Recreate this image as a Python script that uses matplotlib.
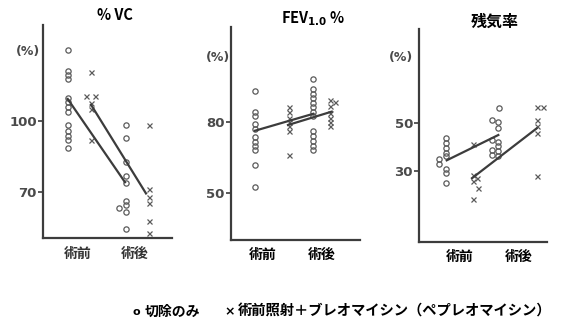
import matplotlib
matplotlib.use("Agg")
import matplotlib.pyplot as plt

plt.rcParams['font.family'] = ['Noto Sans CJK JP', 'DejaVu Sans']

# ---- data ----
titles = ["% VC", r"FEV$_{\mathbf{1.0}}$ %", "残気率"]
groups = ["術前", "術後"]
legend_o = "切除のみ"
legend_x = "術前照射＋ブレオマイシン（ペプレオマイシン）"

vc_ticks = [70, 100]
vc_pre_o = [129.5, 121, 119, 117.5, 109.7, 107.8, 105.9, 103.6, 98, 95.7, 93.6, 91.9, 88.4]
vc_pre_x = [120.4, 110.2, 110.2, 107.3, 104.9, 92]
vc_post_o = [98.2, 92.7, 82.5, 76.7, 73.9, 66.2, 64.6, 63.5, 61.8, 54.8]
vc_post_x = [98, 71.3, 68.2, 65.5, 57.8, 53]
vc_line_o = [109.1, 74.2]
vc_line_x = [106.7, 69.5]

fev_ticks = [50, 80]
fev_pre_o = [93, 84, 82.5, 79, 77, 73.5, 71.5, 70, 68, 62, 52.5]
fev_pre_x = [86, 84, 81.7, 79.7, 78, 76.2, 66]
fev_post_o = [97.8, 93.5, 91.7, 89.8, 88, 86, 84.2, 82.5, 76, 74, 72, 70, 68]
fev_post_x = [89, 88.4, 86.5, 83.5, 81.5, 79.7, 78]
fev_line_o = [76.2, 83.3]
fev_line_x = [78.6, 84.2]

rv_ticks = [30, 50]
rv_pre_o = [43.7, 41.9, 39.8, 37.7, 36.2, 35, 33, 31, 29, 25]
rv_pre_x = [41.5, 28.3, 27, 25.8, 22.8, 18.2]
rv_post_o = [56.6, 51.2, 50.7, 48.2, 43, 42.3, 40.5, 38.8, 38.5, 36.7, 36.5]
rv_post_x = [57, 57, 51.4, 48.8, 46, 28]
rv_line_o = [34.5, 45.1]
rv_line_x = [27, 47.9]

# ---- layout (pixels of the 561x327 picture) ----
W, H = 561, 327
# left, right, bottom, top of each axis frame
frames = [(43, 172, 238.3, 25), (230.7, 360, 240, 26.7), (419.3, 547, 241.7, 29.3)]
ylims = [(50.7, 140.1), (30.4, 119.8), (0.4, 89.4)]
# x of columns: pre o, pre x, post o, post x  (px from y axis)
cols = [(24.7, 48, 82.7, 106), (23.8, 58.3, 82.3, 98.8), (27, 53.7, 79, 117.4)]
# little sideways shifts of crowded points (px)
shifts = [
    ([0] * 13, [0, -5, 4, 0, 0, 0], [0] * 7 + [-7, 0, 0], [0] * 6),
    ([0] * 11, [0] * 7, [0] * 13, [0, 5.5, 0, 0, 0, 0, 0]),
    ([0, 0, 0, 0, 0, -7, -7, 0, 0, 0], [0, 0, 4, 0, 5, 0],
     [1, -6.6, 0, 0, -6.6, 0, 0, -6.6, 0, -6.6, 0], [0, 6.6, 0, 0, 0, 0]),
]
line_ends = [((24.7, 82.0), (48, 103)), ((24.3, 82.6), (57.3, 101)),
             ((27.4, 79), (52.7, 117.4))]
group_x = [(34.5, 92), (31.8, 91), (40.7, 99)]
title_xy = [(115, 15), (313, 18.5), (494.5, 21.5)]
pct_xy = [(28, 52), (218, 57), (401, 58)]

panels = [
    (vc_ticks, vc_pre_o, vc_pre_x, vc_post_o, vc_post_x, vc_line_o, vc_line_x),
    (fev_ticks, fev_pre_o, fev_pre_x, fev_post_o, fev_post_x, fev_line_o, fev_line_x),
    (rv_ticks, rv_pre_o, rv_pre_x, rv_post_o, rv_post_x, rv_line_o, rv_line_x),
]

pt_col = '#5a5a5a'
ax_col = '#3c3c3c'

fig = plt.figure(figsize=(W / 100, H / 100), dpi=100)

for i, (ticks, pre_o, pre_x, post_o, post_x, line_o, line_x) in enumerate(panels):
    l, r, b, t = frames[i]
    ax = fig.add_axes([l / W, 1 - b / H, (r - l) / W, (b - t) / H])
    ax.set_xlim(0, r - l)
    ax.set_ylim(*ylims[i])
    for s in ['top', 'right']:
        ax.spines[s].set_visible(False)
    for s in ['left', 'bottom']:
        ax.spines[s].set_color(ax_col)
        ax.spines[s].set_linewidth(1.6)

    series = [pre_o, pre_x, post_o, post_x]
    for k, vals in enumerate(series):
        xs = [cols[i][k] + d for d in shifts[i][k]]
        if k % 2 == 0:
            ax.plot(xs, vals, 'o', ms=3.8, mfc='none', mec=pt_col, mew=0.9)
        else:
            ax.plot(xs, vals, 'x', ms=3.6, mec=pt_col, mew=0.9)

    (o0, o1), (x0, x1) = line_ends[i]
    ax.plot([o0, o1], line_o, color=ax_col, lw=1.6)
    ax.plot([x0, x1], line_x, color=ax_col, lw=1.6)

    ax.set_yticks(ticks)
    ax.set_yticklabels([str(v) for v in ticks], fontsize=9.5, fontweight='bold',
                       color='#4a4a4a', family='DejaVu Sans')
    ax.tick_params(axis='y', length=3.5, width=1.2, color=ax_col, pad=1)
    ax.set_xticks(group_x[i])
    ax.set_xticklabels(groups, fontsize=10, fontweight='bold',
                       color='#333333' if i == 0 else 'black')
    ax.tick_params(axis='x', length=0, pad=6)

    tx, ty = title_xy[i]
    fig.text(tx / W, 1 - ty / H, titles[i], ha='center', va='center',
             fontsize=10.5 if i < 2 else 11.5, fontweight='bold')
    px, py = pct_xy[i]
    fig.text(px / W, 1 - py / H, "(%)", ha='center', va='center',
             fontsize=9, fontweight='bold', color='#4a4a4a', family='DejaVu Sans')

# legend line at the bottom
fig.text(136.5 / W, 1 - 312 / H, "o", ha='center', va='center', fontsize=8,
         fontweight='bold', family='DejaVu Sans')
fig.text(145 / W, 1 - 312 / H, legend_o, ha='left', va='center', fontsize=10,
         fontweight='bold')
fig.text(230 / W, 1 - 312 / H, "×", ha='center', va='center', fontsize=9,
         fontweight='bold', family='DejaVu Sans')
fig.text(238 / W, 1 - 312 / H, legend_x, ha='left', va='center', fontsize=10.3,
         fontweight='bold')

fig.savefig("out.png", dpi=100)
